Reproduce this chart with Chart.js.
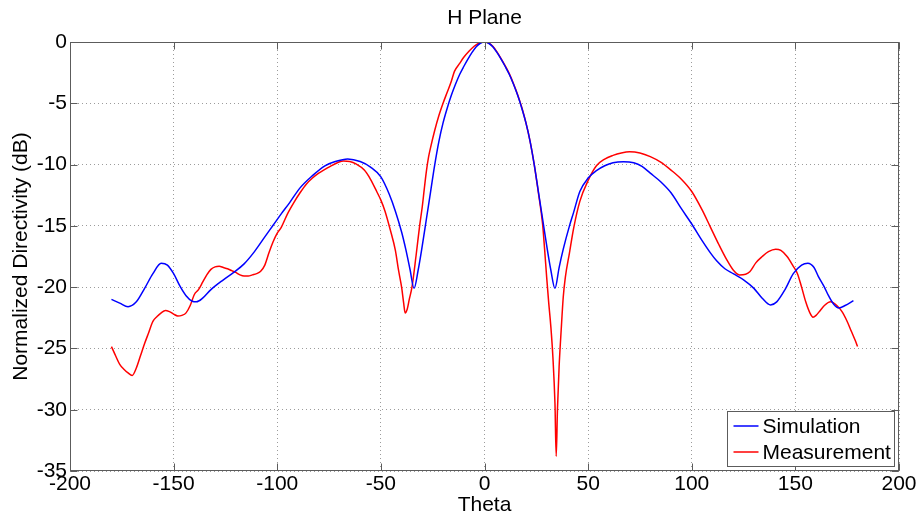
<!DOCTYPE html>
<html>
<head>
<meta charset="utf-8">
<title>H Plane</title>
<script src="https://cdn.jsdelivr.net/npm/chart.js@4/dist/chart.umd.min.js"></script>
<style>
  html, body { margin: 0; padding: 0; background: #ffffff; }
  canvas { display: block; }
</style>
</head>
<body>
<canvas id="chart" width="921" height="523"></canvas>
<script>
// Simulated H-plane pattern (theta in degrees, normalized directivity in dB)
const simTheta = [-180, -176, -172, -168, -164, -160, -156, -153, -150, -147, -144, -141, -139, -136, -132, -126, -121, -116, -111, -106, -102, -98, -94, -89, -83, -77, -72, -66, -60, -55, -50, -46, -43, -40, -38, -36, -34, -32, -30, -28, -26, -24, -22, -20, -18, -16, -14, -12, -10, -8, -6, -4, -2, 0, 2, 4, 6, 8, 10, 12, 14, 16, 18, 20, 22, 24, 26, 28, 30, 32, 34, 36, 38, 41, 43, 46, 50, 54, 58, 62, 67, 72, 76, 80, 85, 90, 95, 100, 105, 109, 112, 116, 120, 125, 130, 134, 138, 141, 145, 149, 153, 156, 159, 161, 164, 166, 168.5, 171, 174, 178];
const simDb = [-21.0, -21.3, -21.6, -21.2, -20.1, -18.9, -18.05, -18.2, -18.9, -19.9, -20.7, -21.15, -21.2, -20.9, -20.2, -19.4, -18.8, -18.1, -17.1, -15.9, -14.95, -14.0, -13.1, -11.9, -10.9, -10.1, -9.75, -9.54, -9.75, -10.2, -11.0, -12.4, -13.8, -15.5, -16.9, -18.5, -20.1, -18.6, -16.6, -14.4, -12.2, -10.0, -8.1, -6.6, -5.4, -4.35, -3.45, -2.65, -2.0, -1.4, -0.85, -0.38, -0.1, 0, -0.1, -0.38, -0.85, -1.4, -2.0, -2.65, -3.45, -4.35, -5.4, -6.6, -8.1, -10.0, -12.2, -14.4, -16.6, -18.6, -20.1, -18.4, -16.9, -15.0, -13.9, -12.2, -11.1, -10.5, -10.1, -9.85, -9.76, -9.85, -10.15, -10.7, -11.4, -12.3, -13.6, -14.85, -16.2, -17.2, -17.85, -18.5, -18.9, -19.4, -20.1, -20.9, -21.45, -21.2, -20.2, -18.9, -18.2, -18.05, -18.4, -19.1, -20.0, -20.7, -21.4, -21.7, -21.5, -21.1];

// Measured H-plane pattern
const measTheta = [-180, -178, -176, -174, -172, -170, -168, -166, -164, -162, -160, -158, -156, -154, -152, -150, -148, -146, -144, -142, -140, -138, -136, -134, -132, -130, -128, -126, -124, -122, -120, -118, -116, -114, -112, -110, -108, -106, -104, -102, -100, -98, -95, -92, -89, -86, -83, -80, -77, -74, -71, -68, -65, -62, -58, -55, -52, -50, -48, -45.5, -43, -41.5, -40, -39, -38.3, -37.3, -36.3, -35, -33, -31.3, -30, -29, -28, -27, -26, -24, -22, -20, -18, -16, -14.5, -12, -10, -7.5, -5, -3, 0, 2, 4, 6, 8, 10, 12, 14, 16, 18, 20, 22, 24, 26, 28, 29, 30, 31, 32, 33, 34, 34.6, 35.2, 36, 37, 38, 39, 41, 43, 46, 50, 54, 58, 62, 66, 70, 75, 80, 85, 90, 95, 100, 105, 109, 113, 117, 120, 123, 126, 128, 131, 134, 137, 140.5, 143, 146, 149, 151, 153, 155, 157, 158.5, 160, 162, 164, 167, 170, 172.5, 175, 177, 179, 180];
const measDb = [-24.85, -25.6, -26.3, -26.7, -27.0, -27.2, -26.6, -25.6, -24.6, -23.7, -22.8, -22.4, -22.1, -21.9, -22.0, -22.2, -22.35, -22.3, -22.1, -21.5, -20.6, -20.2, -19.6, -19.0, -18.55, -18.35, -18.3, -18.4, -18.5, -18.65, -18.8, -19.0, -19.1, -19.1, -19.0, -18.9, -18.7, -18.2, -17.2, -16.3, -15.6, -15.1, -14.0, -13.1, -12.3, -11.6, -11.1, -10.7, -10.4, -10.1, -9.85, -9.7, -9.75, -9.95, -10.45, -11.2, -12.2, -12.9, -13.8, -15.3, -17.0, -18.6, -20.0, -21.3, -22.1, -21.8, -21.0, -20.0, -17.4, -15.0, -13.4, -11.9, -10.5, -9.4, -8.6, -7.2, -6.0, -5.0, -4.1, -3.2, -2.4, -1.75, -1.25, -0.76, -0.35, -0.12, 0, -0.08, -0.35, -0.8, -1.35, -1.95, -2.6, -3.4, -4.3, -5.35, -6.6, -8.1, -10.0, -12.3, -14.8, -16.9, -19.2, -21.3, -23.2, -25.7, -29.5, -33.8, -30.0, -26.5, -23.5, -20.8, -19.2, -17.2, -15.2, -13.0, -11.3, -10.1, -9.55, -9.25, -9.05, -8.95, -9.05, -9.35, -9.8, -10.45, -11.2, -12.2, -13.7, -15.1, -16.5, -17.8, -18.6, -19.0, -18.95, -18.75, -18.0, -17.5, -17.1, -16.9, -17.0, -17.5, -18.3, -18.9, -20.0, -21.2, -22.1, -22.45, -22.3, -21.9, -21.5, -21.2, -21.5, -22.0, -22.8, -23.6, -24.4, -24.85];

const seriesNames = ['Simulation', 'Measurement'];
const xTickValues = [-200, -150, -100, -50, 0, 50, 100, 150, 200];
const yTickValues = [-35, -30, -25, -20, -15, -10, -5, 0];

const FONT = 'Arial, "Liberation Sans", Helvetica, sans-serif';
const FS = 21;

const toPoints = (xs, ys) => xs.map((t, i) => ({ x: t, y: ys[i] }));

// Box around the axes, inward tick marks on all four sides, and the legend
const axesDecor = {
  id: 'axesDecor',
  afterDatasetsDraw(chart) {
    const { ctx, chartArea: a, scales: { x, y } } = chart;
    ctx.save();
    ctx.strokeStyle = '#5c5c5c';
    ctx.lineWidth = 1;
    const L = Math.round(a.left) + 0.5, R = Math.round(a.right) - 0.5;
    const T = Math.round(a.top) + 0.5, B = Math.round(a.bottom) - 0.5;
    ctx.strokeRect(L, T, R - L, B - T);
    const tl = 7;
    ctx.beginPath();
    x.ticks.forEach(t => {
      const px = Math.round(x.getPixelForValue(t.value)) + 0.5;
      ctx.moveTo(px, B); ctx.lineTo(px, B - tl);
      ctx.moveTo(px, T); ctx.lineTo(px, T + tl);
    });
    y.ticks.forEach(t => {
      const py = Math.round(y.getPixelForValue(t.value)) + 0.5;
      ctx.moveTo(L, py); ctx.lineTo(L + tl, py);
      ctx.moveTo(R, py); ctx.lineTo(R - tl, py);
    });
    ctx.stroke();

    // legend, lower right corner inside the axes
    ctx.font = `${FS}px ${FONT}`;
    const sets = chart.data.datasets;
    const textW = Math.max(...sets.map(d => ctx.measureText(d.label).width));
    const padL = 6, lineLen = 25, gap = 4, padR = 4, rowH = 26, padT = 14.5;
    const boxW = Math.round(padL + lineLen + gap + textW + padR);
    const boxH = 55;
    const bx = Math.round(a.right - 5 - boxW) + 0.5;
    const by = Math.round(a.bottom - 5 - boxH) + 0.5;
    ctx.fillStyle = '#ffffff';
    ctx.fillRect(bx, by, boxW, boxH);
    ctx.strokeStyle = '#5c5c5c';
    ctx.strokeRect(bx, by, boxW, boxH);
    ctx.textBaseline = 'middle';
    ctx.textAlign = 'left';
    sets.forEach((d, i) => {
      const cy = by + padT + i * rowH;
      ctx.strokeStyle = d.borderColor;
      ctx.lineWidth = d.borderWidth;
      ctx.beginPath();
      ctx.moveTo(bx + padL, cy);
      ctx.lineTo(bx + padL + lineLen, cy);
      ctx.stroke();
      ctx.fillStyle = '#000000';
      ctx.fillText(d.label, bx + padL + lineLen + gap, cy + 1);
    });
    ctx.restore();
  }
};

new Chart(document.getElementById('chart'), {
  type: 'line',
  data: {
    datasets: [
      {
        label: seriesNames[0],
        data: toPoints(simTheta, simDb),
        borderColor: 'rgb(0,0,255)',
        borderWidth: 1.5,
        pointRadius: 0,
        cubicInterpolationMode: 'monotone',
        fill: false
      },
      {
        label: seriesNames[1],
        data: toPoints(measTheta, measDb),
        borderColor: 'rgb(255,0,0)',
        borderWidth: 1.5,
        pointRadius: 0,
        cubicInterpolationMode: 'monotone',
        fill: false
      }
    ]
  },
  options: {
    responsive: false,
    animation: false,
    devicePixelRatio: 1,
    layout: { padding: { left: 0, right: 22, top: 0, bottom: 0 } },
    plugins: {
      legend: { display: false },
      tooltip: { enabled: false },
      title: {
        display: true,
        text: 'H Plane',
        fullSize: false,
        color: '#000000',
        font: { family: FONT, size: FS, weight: 'normal' },
        padding: { top: 5.7, bottom: 11.1 }
      }
    },
    scales: {
      x: {
        type: 'linear',
        min: -200,
        max: 200,
        afterBuildTicks: s => { s.ticks = xTickValues.map(v => ({ value: v })); },
        afterFit: s => { s.height = 52; s.paddingLeft = 0; s.paddingRight = 0; },
        ticks: {
          color: '#000000',
          font: { family: FONT, size: FS },
          padding: 1,
          maxRotation: 0,
          callback: v => String(v)
        },
        grid: { color: '#9c9c9c', lineWidth: 1, drawTicks: false },
        border: { display: false, dash: [1, 3] },
        title: {
          display: true,
          text: 'Theta',
          color: '#000000',
          font: { family: FONT, size: FS },
          padding: { top: 0, bottom: 5.4 }
        }
      },
      y: {
        type: 'linear',
        min: -35,
        max: 0,
        afterBuildTicks: s => { s.ticks = yTickValues.map(v => ({ value: v })); },
        afterFit: s => { s.width = 70; },
        ticks: {
          color: '#000000',
          font: { family: FONT, size: FS },
          padding: 3,
          callback: v => String(v)
        },
        grid: { color: '#9c9c9c', lineWidth: 1, drawTicks: false },
        border: { display: false, dash: [1, 3] },
        title: {
          display: true,
          text: 'Normalized Directivity (dB)',
          color: '#000000',
          font: { family: FONT, size: FS },
          padding: { top: 9, bottom: 0 }
        }
      }
    }
  },
  plugins: [axesDecor]
});
</script>
</body>
</html>
